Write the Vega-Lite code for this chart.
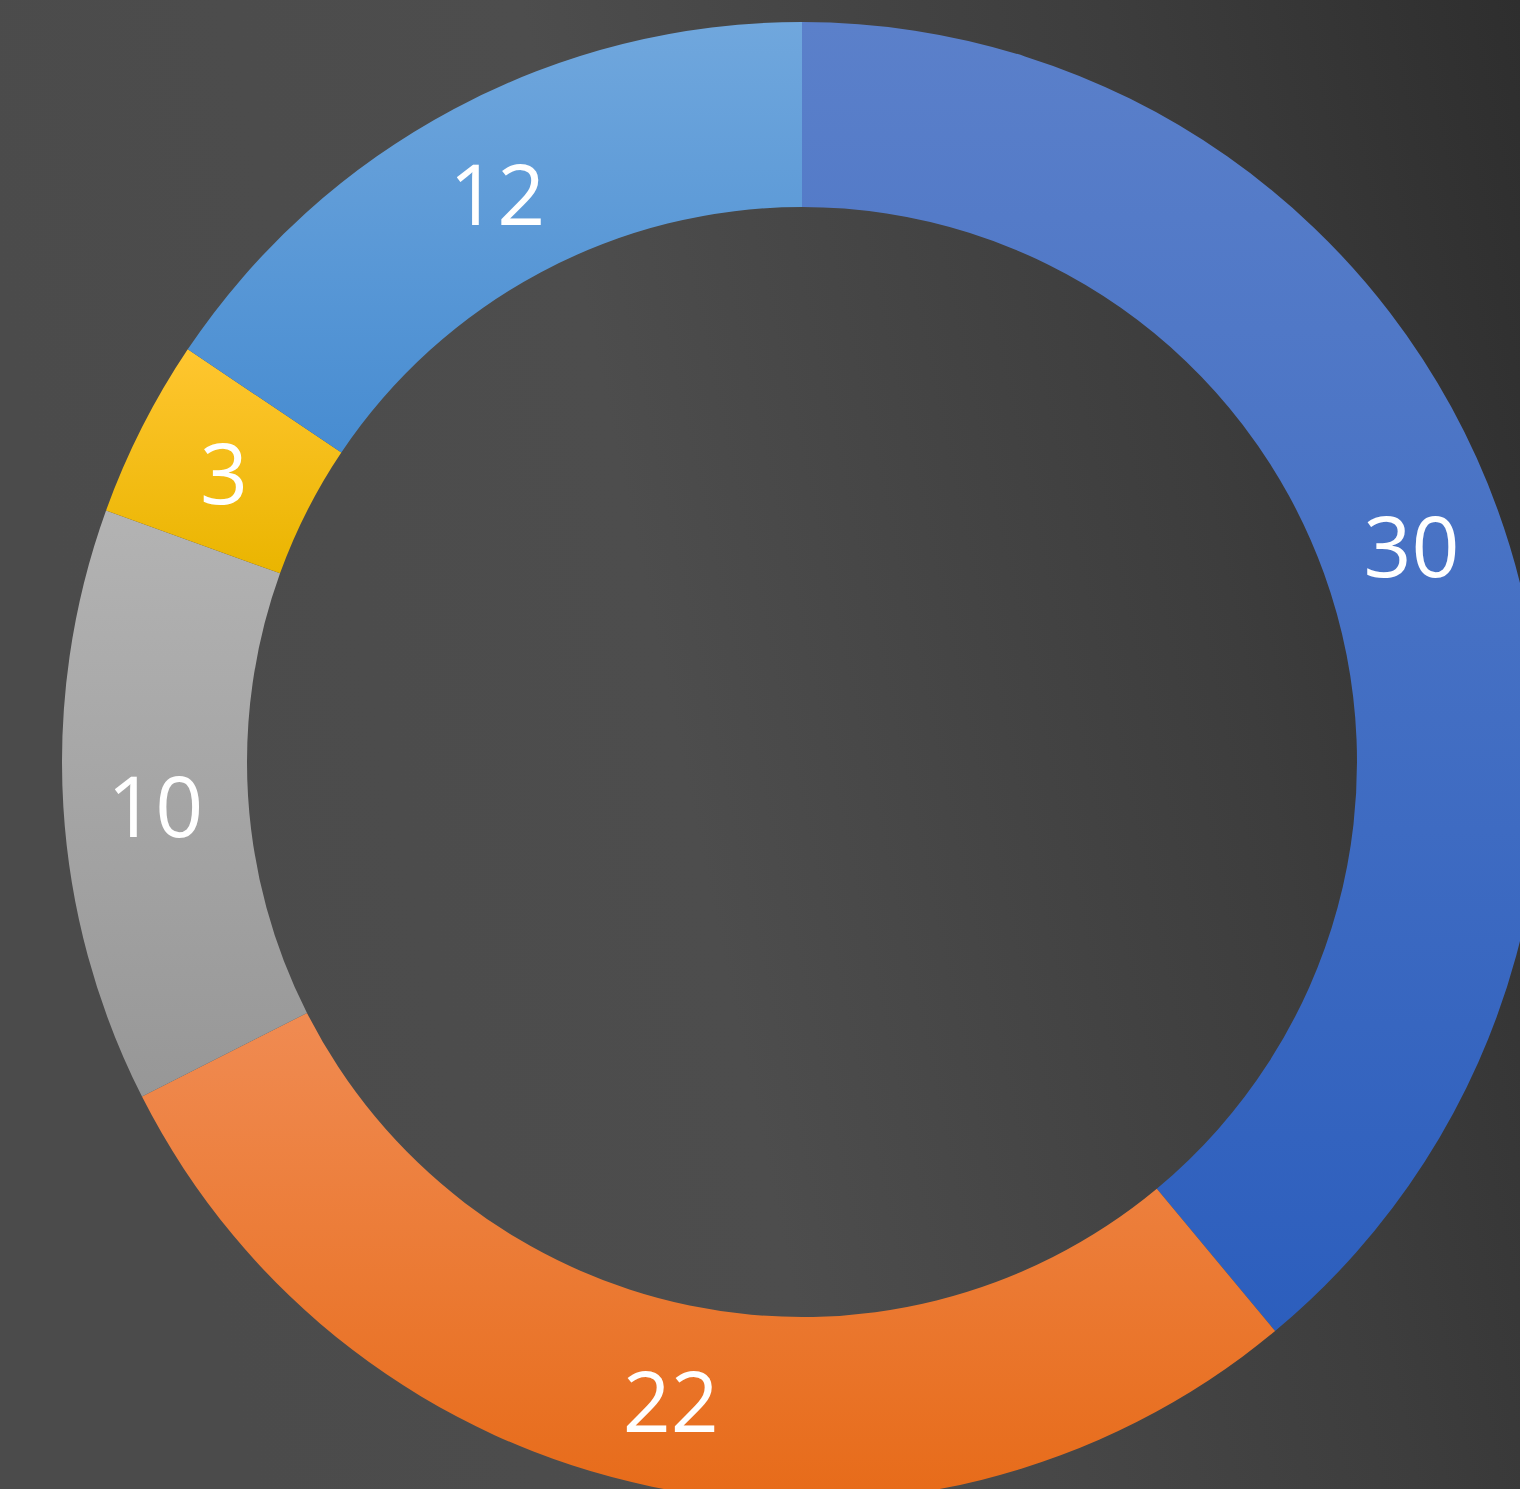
{
  "$schema": "https://vega.github.io/schema/vega-lite/v6.json",
  "width": 1604,
  "height": 1524,
  "autosize": {"type": "none"},
  "padding": 0,
  "background": "#3c3c3c",
  "config": {"view": {"stroke": null}},
  "data": {
    "values": [
      {"category": "A", "value": 30, "order": 1},
      {"category": "B", "value": 22, "order": 2},
      {"category": "C", "value": 10, "order": 3},
      {"category": "D", "value": 3, "order": 4},
      {"category": "E", "value": 12, "order": 5}
    ]
  },
  "transform": [
    {"stack": "value", "groupby": [], "sort": [{"field": "order", "order": "ascending"}], "as": ["t0", "t1"]}
  ],
  "layer": [
    {
      "data": {"values": [{"bg": 1}]},
      "mark": {
        "type": "rect",
        "color": {
          "gradient": "linear",
          "x1": 0, "y1": 0.2, "x2": 1, "y2": 0,
          "stops": [
            {"offset": 0, "color": "#4b4b4b"},
            {"offset": 0.35, "color": "#4d4d4d"},
            {"offset": 0.7, "color": "#3d3d3d"},
            {"offset": 1, "color": "#2b2b2b"}
          ]
        }
      },
      "encoding": {}
    },
    {
      "transform": [{"filter": "datum.category === 'A'"}],
      "mark": {"type": "arc", "radius": 740, "radius2": 555, "color": {"gradient": "linear", "x1": 0, "y1": 0, "x2": 0, "y2": 1, "stops": [{"offset": 0, "color": "#5b80ca"}, {"offset": 1, "color": "#2c5ebd"}]}},
      "encoding": {"theta": {"field": "t0", "type": "quantitative"}, "theta2": {"field": "t1"}}
    },
    {
      "transform": [{"filter": "datum.category === 'B'"}],
      "mark": {"type": "arc", "radius": 740, "radius2": 555, "color": {"gradient": "linear", "x1": 0, "y1": 0, "x2": 0, "y2": 1, "stops": [{"offset": 0, "color": "#f08b52"}, {"offset": 1, "color": "#e76b19"}]}},
      "encoding": {"theta": {"field": "t0", "type": "quantitative"}, "theta2": {"field": "t1"}}
    },
    {
      "transform": [{"filter": "datum.category === 'C'"}],
      "mark": {"type": "arc", "radius": 740, "radius2": 555, "color": {"gradient": "linear", "x1": 0, "y1": 0, "x2": 0, "y2": 1, "stops": [{"offset": 0, "color": "#b3b3b3"}, {"offset": 1, "color": "#979797"}]}},
      "encoding": {"theta": {"field": "t0", "type": "quantitative"}, "theta2": {"field": "t1"}}
    },
    {
      "transform": [{"filter": "datum.category === 'D'"}],
      "mark": {"type": "arc", "radius": 740, "radius2": 555, "color": {"gradient": "linear", "x1": 0, "y1": 0, "x2": 0, "y2": 1, "stops": [{"offset": 0, "color": "#ffc630"}, {"offset": 1, "color": "#eab500"}]}},
      "encoding": {"theta": {"field": "t0", "type": "quantitative"}, "theta2": {"field": "t1"}}
    },
    {
      "transform": [{"filter": "datum.category === 'E'"}],
      "mark": {"type": "arc", "radius": 740, "radius2": 555, "color": {"gradient": "linear", "x1": 0, "y1": 0, "x2": 0, "y2": 1, "stops": [{"offset": 0, "color": "#70a7dd"}, {"offset": 1, "color": "#478cd1"}]}},
      "encoding": {"theta": {"field": "t0", "type": "quantitative"}, "theta2": {"field": "t1"}}
    },
    {
      "mark": {"type": "text", "radius": 648, "dy": 10, "font": "Open Sans", "fontSize": 84, "color": "white", "baseline": "middle", "align": "center"},
      "encoding": {
        "theta": {"field": "value", "type": "quantitative", "stack": true},
        "order": {"field": "order", "type": "quantitative"},
        "text": {"field": "value", "type": "quantitative"}
      }
    }
  ]
}
